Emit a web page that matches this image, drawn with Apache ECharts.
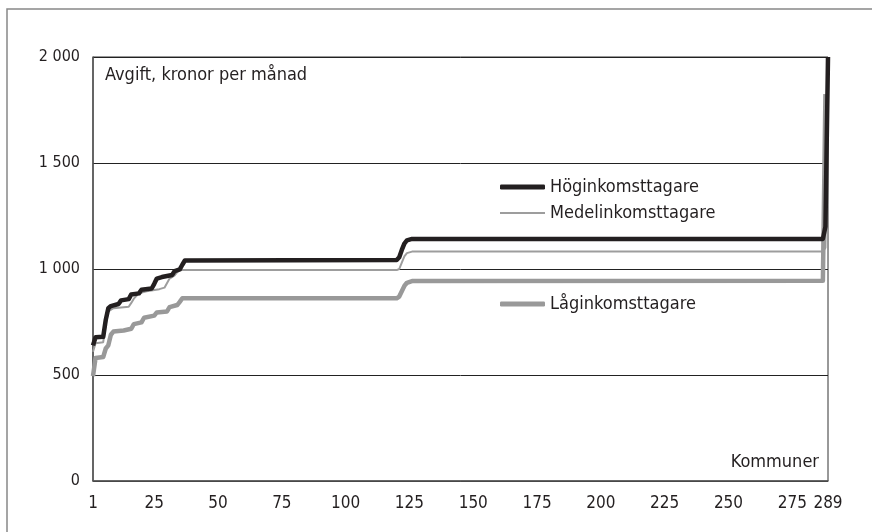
<!DOCTYPE html>
<html>
<head>
<meta charset="utf-8">
<script src="https://cdn.jsdelivr.net/npm/echarts@6/dist/echarts.min.js"></script>
<style>
  html, body { margin: 0; padding: 0; background: #fff; }
</style>
</head>
<body>
<div id="myChart" style="width:872px;height:532px;"></div>
<script>
// kommun (rangordning) och avgift, kronor per månad
var hogData = [[1,640],[2,678],[5,680],[6,760],[7,815],[8,825],[11,835],[12,852],[15,858],[16,880],[19,885],[20,902],[24,908],[25,930],[26,955],[28,962],[32,972],[33,990],[35,998],[36,1020],[37,1040],
    [120,1042],[121,1055],[122,1090],[123,1120],[124,1135],[126,1142],[287,1142],[288,1200],[289,2000]];
var medelData = [[1,610],[2,650],[5,655],[6,740],[7,800],[9,815],[15,822],[16,840],[17,860],[19,885],[22,895],[27,905],[29,912],[31,955],[33,970],[34,985],[35,995],
    [120,995],[121,1000],[122,1030],[123,1060],[124,1075],[126,1082],[287,1082],[288,1100],[289,1990]];
var lagData = [[1,495],[2,580],[5,585],[6,625],[7,640],[8,690],[9,705],[13,710],[16,718],[17,740],[20,748],[21,770],[25,780],[26,795],[30,800],[31,820],[34,830],[35,845],[36,862],
    [120,862],[121,870],[122,895],[123,920],[124,935],[126,943],[287,945],[288,1825]];
var xTicks = [1, 25, 50, 75, 100, 125, 150, 175, 200, 225, 250, 275, 289];

var fontFam = '"Liberation Sans Narrow", "DejaVu Sans Condensed", "Roboto", sans-serif';
var ink = '#231f20';

function legendFor(name, top, thick) {
    return {
        data: [name], left: 500, top: top, padding: 0,
        icon: thick > 3 ? 'roundRect' : 'rect',
        itemWidth: 45, itemHeight: thick, itemGap: 6,
        textStyle: { fontSize: 18, color: ink, fontFamily: fontFam }
    };
}

var chart = echarts.init(document.getElementById('myChart'));
chart.setOption({
    animation: false,
    backgroundColor: '#fff',
    textStyle: { fontFamily: fontFam },
    grid: {
        left: 93, right: 44, top: 57, bottom: 51,
        show: true, borderColor: '#333', borderWidth: 1
    },
    graphic: [
        { type: 'rect', shape: { x: 7, y: 9, width: 900, height: 600 },
          style: { fill: 'none', stroke: '#888', lineWidth: 1.5 }, silent: true, z: -1 },
        { type: 'text', left: 105, top: 66,
          style: { text: 'Avgift, kronor per månad', fill: ink, font: '18px ' + fontFam } },
        { type: 'text', right: 53, top: 453,
          style: { text: 'Kommuner', fill: ink, font: '18px ' + fontFam } }
    ],
    legend: [
        legendFor('Höginkomsttagare', 178, 5),
        legendFor('Medelinkomsttagare', 204, 2),
        legendFor('Låginkomsttagare', 295, 5)
    ],
    xAxis: {
        type: 'value', min: 1, max: 289,
        axisLine: { show: true, lineStyle: { color: '#555', width: 1.5 } },
        axisTick: { show: false },
        splitLine: { show: false },
        axisLabel: {
            customValues: xTicks, margin: 14, hideOverlap: false,
            fontSize: 17, color: ink, fontFamily: fontFam
        }
    },
    yAxis: {
        type: 'value', min: 0, max: 2000, interval: 500,
        axisLine: { show: true, lineStyle: { color: '#555', width: 1.5 } },
        axisTick: { show: false },
        splitLine: { show: true, lineStyle: { color: '#222', width: 1 } },
        axisLabel: {
            margin: 13, fontSize: 16, color: ink, fontFamily: fontFam,
            formatter: function (v) {
                return String(v).replace(/\B(?=(\d{3})+(?!\d))/g, ' ');
            }
        }
    },
    series: [
        { name: 'Medelinkomsttagare', type: 'line', data: medelData, symbol: 'none',
          color: '#9d9d9d', lineStyle: { width: 2, join: 'round' }, z: 2 },
        { name: 'Låginkomsttagare', type: 'line', data: lagData, symbol: 'none',
          color: '#999999', lineStyle: { width: 4.5, join: 'round' }, z: 3 },
        { name: 'Höginkomsttagare', type: 'line', data: hogData, symbol: 'none',
          color: ink, lineStyle: { width: 4.5, join: 'round' }, z: 4 }
    ]
});
</script>
</body>
</html>
